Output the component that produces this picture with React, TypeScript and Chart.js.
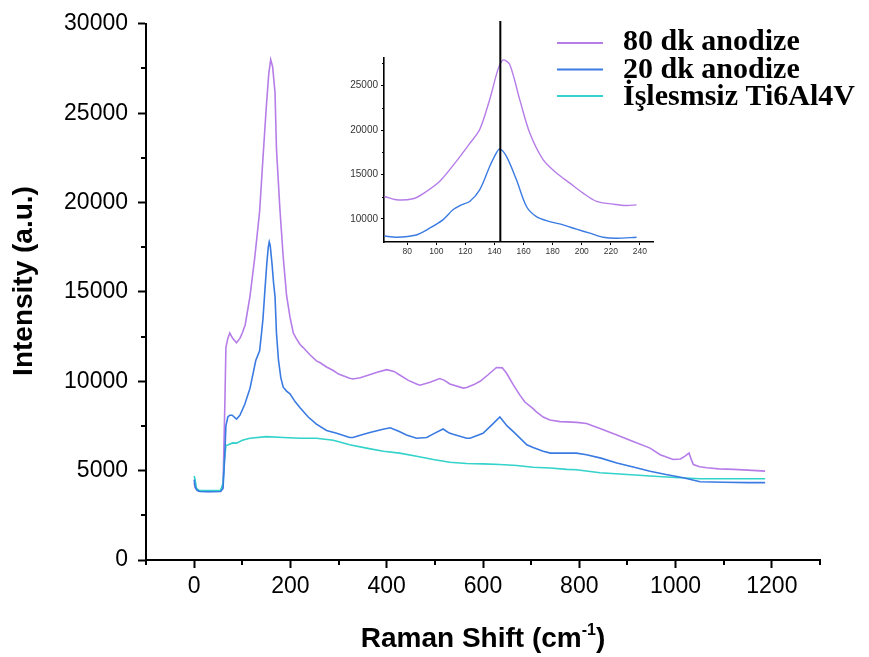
import React, { useEffect, useRef } from 'react';
import { Chart, registerables } from 'chart.js';

Chart.register(...registerables);

// ---------- Main chart data ----------
const seriesLabels = ['80 dk anodize', '20 dk anodize', 'İşlesmsiz Ti6Al4V'];

const shift80 = [0, 3, 10, 30, 55, 60, 64, 66, 70, 74, 80, 88, 95, 100, 106, 116, 126, 136, 143, 150, 155, 159, 163, 168, 171, 178, 185, 192, 199, 206, 212, 220, 226, 240, 254, 261, 275, 289, 300, 323, 330, 345, 358, 380, 400, 415, 427, 445, 462, 469, 490, 510, 520, 531, 559, 566, 580, 594, 610, 628, 640, 649, 663, 677, 687, 704, 711, 725, 739, 760, 774, 795, 815, 843, 878, 912, 947, 968, 995, 1010, 1019, 1028, 1033, 1037, 1050, 1065, 1090, 1120, 1150, 1186];
const int80 = [4300, 4000, 3850, 3830, 3850, 4100, 9000, 11900, 12400, 12700, 12400, 12150, 12400, 12700, 13150, 14750, 16950, 19500, 22500, 25400, 27200, 28000, 27600, 26150, 23000, 19700, 16950, 14800, 13600, 12700, 12400, 12060, 11900, 11500, 11140, 11050, 10800, 10600, 10400, 10170, 10130, 10200, 10310, 10500, 10650, 10550, 10350, 10050, 9850, 9780, 9950, 10150, 10050, 9850, 9620, 9650, 9800, 10000, 10350, 10770, 10750, 10450, 9800, 9210, 8840, 8470, 8290, 8000, 7830, 7740, 7730, 7700, 7640, 7360, 7000, 6630, 6260, 5890, 5620, 5650, 5800, 5980, 5600, 5340, 5220, 5160, 5100, 5070, 5030, 4970];

const shift20 = [0, 2, 6, 12, 30, 55, 60, 63, 66, 70, 74, 79, 88, 95, 105, 116, 128, 136, 140, 143, 147, 151, 154, 156, 158, 162, 165, 168, 171, 175, 180, 185, 192, 199, 210, 220, 237, 254, 275, 296, 323, 330, 345, 365, 390, 407, 425, 441, 462, 483, 500, 517, 530, 538, 566, 573, 600, 620, 635, 650, 663, 670, 691, 704, 725, 740, 774, 794, 815, 845, 878, 912, 947, 980, 1016, 1051, 1100, 1150, 1186];
const int20 = [4500, 4100, 3900, 3830, 3820, 3830, 4000, 5500, 7500, 8000, 8100, 8100, 7880, 8100, 8700, 9600, 11160, 11700, 12700, 13500, 15100, 16600, 17500, 17800, 17600, 16500, 15500, 14750, 12700, 11230, 10200, 9670, 9450, 9300, 8850, 8520, 8000, 7600, 7250, 7090, 6850, 6850, 6980, 7130, 7300, 7400, 7200, 7000, 6810, 6850, 7100, 7330, 7100, 7030, 6810, 6810, 7090, 7600, 8000, 7500, 7180, 7000, 6450, 6300, 6080, 5980, 5980, 5980, 5890, 5700, 5430, 5200, 4970, 4780, 4600, 4380, 4350, 4330, 4330];

const shiftRaw = [0, 2, 5, 10, 30, 55, 60, 63, 66, 71, 80, 88, 100, 116, 150, 185, 220, 254, 289, 323, 358, 393, 427, 462, 497, 531, 566, 600, 635, 670, 704, 739, 774, 794, 843, 900, 947, 1000, 1051, 1100, 1186];
const intRaw = [4700, 4500, 4000, 3900, 3880, 3900, 4300, 5600, 6400, 6450, 6550, 6540, 6700, 6810, 6900, 6850, 6810, 6810, 6700, 6450, 6260, 6080, 5980, 5800, 5620, 5470, 5400, 5380, 5340, 5290, 5190, 5150, 5070, 5050, 4880, 4780, 4700, 4620, 4550, 4550, 4550];

const xMajorTicks = [0, 200, 400, 600, 800, 1000, 1200];
const xMinorTicks = [-100, 100, 300, 500, 700, 900, 1100, 1300];
const yMajorTicks = [0, 5000, 10000, 15000, 20000, 25000, 30000];
const yMinorTicks = [2500, 7500, 12500, 17500, 22500, 27500];

// ---------- Inset data ----------
const insetShift80 = [64.4, 72.4, 83.9, 90.7, 102.2, 113.7, 122.9, 129.8, 136.7, 142.4, 145.8, 150.4, 157.3, 164.2, 173.4, 182.6, 191.8, 200.9, 210.2, 221.6, 230.8, 237.7];
const insetInt80 = [12520, 12150, 12260, 12820, 14210, 16470, 18470, 20050, 23440, 26820, 27870, 27390, 23440, 19680, 16660, 15160, 14030, 12900, 11960, 11660, 11500, 11580];
const insetShift20 = [64.4, 72.4, 86.2, 95.4, 104.5, 111.4, 117.2, 122.9, 129.8, 136.7, 141.3, 143.6, 148.2, 155.1, 162, 168.8, 178, 187.2, 196.4, 205.6, 214.7, 223.9, 237.7];
const insetInt20 = [8080, 7930, 8190, 8950, 9890, 11020, 11580, 11960, 13270, 15900, 17420, 17870, 17030, 14400, 11390, 10260, 9700, 9320, 8840, 8390, 7930, 7820, 7930];
const insetXTicks = [80, 100, 120, 140, 160, 180, 200, 220, 240];
const insetYTicks = [10000, 15000, 20000, 25000];
const insetYMinor = [12500, 17500, 22500, 27500];
const insetMarker = 144;

const PURPLE = '#b67de8';
const BLUE = '#3a7be2';
const CYAN = '#33d2ca';

const pts = (xs: number[], ys: number[]) => xs.map((x, i) => ({ x, y: ys[i] }));

const SANS = '"Liberation Sans", Arial, sans-serif';
const SERIF = '"Liberation Serif", "Times New Roman", serif';

const mainDecor = {
  id: 'mainDecor',
  afterDraw(chart: any) {
    const { ctx, scales } = chart;
    const xs = scales.x;
    const ys = scales.y;
    const area = chart.chartArea;
    ctx.save();
    ctx.strokeStyle = '#000';
    ctx.lineWidth = 2;
    xMinorTicks.forEach((v) => {
      const px = Math.round(xs.getPixelForValue(v));
      ctx.beginPath();
      ctx.moveTo(px, area.bottom);
      ctx.lineTo(px, area.bottom + 5);
      ctx.stroke();
    });
    yMinorTicks.forEach((v) => {
      const py = Math.round(ys.getPixelForValue(v));
      ctx.beginPath();
      ctx.moveTo(area.left, py);
      ctx.lineTo(area.left - 5, py);
      ctx.stroke();
    });
    // axis titles
    ctx.fillStyle = '#000';
    ctx.font = `bold 28px ${SANS}`;
    ctx.save();
    ctx.translate(24, 281);
    ctx.rotate(-Math.PI / 2);
    ctx.textAlign = 'center';
    ctx.textBaseline = 'middle';
    ctx.fillText('Intensity (a.u.)', 0, 0);
    ctx.restore();
    const partA = 'Raman Shift (cm';
    const sup = '-1';
    const partC = ')';
    ctx.font = `bold 28px ${SANS}`;
    const wA = ctx.measureText(partA).width;
    const wC = ctx.measureText(partC).width;
    ctx.font = `bold 16px ${SANS}`;
    const wS = ctx.measureText(sup).width;
    const total = wA + wS + wC;
    const cx = (area.left + area.right) / 2;
    const x0 = cx - total / 2;
    const base = 647;
    ctx.textAlign = 'left';
    ctx.textBaseline = 'alphabetic';
    ctx.font = `bold 28px ${SANS}`;
    ctx.fillText(partA, x0, base);
    ctx.font = `bold 16px ${SANS}`;
    ctx.fillText(sup, x0 + wA, base - 12);
    ctx.font = `bold 28px ${SANS}`;
    ctx.fillText(partC, x0 + wA + wS, base);
    // legend
    const colors = [PURPLE, BLUE, CYAN];
    const lines = [43, 69.5, 96];
    const bases = [50, 77.5, 105];
    ctx.font = `bold 30px ${SERIF}`;
    seriesLabels.forEach((lab, i) => {
      ctx.strokeStyle = colors[i];
      ctx.lineWidth = 2;
      ctx.beginPath();
      ctx.moveTo(557, lines[i]);
      ctx.lineTo(603, lines[i]);
      ctx.stroke();
      ctx.fillStyle = '#000';
      ctx.fillText(lab, 623, bases[i]);
    });
    ctx.restore();
  },
};

const insetDecor = {
  id: 'insetDecor',
  afterDraw(chart: any) {
    const { ctx, scales } = chart;
    const area = chart.chartArea;
    ctx.save();
    ctx.strokeStyle = '#000';
    ctx.lineWidth = 1;
    insetYMinor.forEach((v) => {
      const py = Math.round(scales.y.getPixelForValue(v)) + 0.5;
      ctx.beginPath();
      ctx.moveTo(area.left, py);
      ctx.lineTo(area.left - 2, py);
      ctx.stroke();
    });
    const mx = scales.x.getPixelForValue(insetMarker);
    ctx.lineWidth = 2;
    ctx.beginPath();
    ctx.moveTo(mx, 21);
    ctx.lineTo(mx, area.bottom);
    ctx.stroke();
    ctx.restore();
  },
};

export default function App() {
  const mainRef = useRef<HTMLCanvasElement>(null);
  const insetRef = useRef<HTMLCanvasElement>(null);

  useEffect(() => {
    const main = new Chart(mainRef.current as HTMLCanvasElement, {
      type: 'line',
      data: {
        datasets: [
          { label: seriesLabels[1], data: pts(shift20, int20), borderColor: BLUE },
          { label: seriesLabels[2], data: pts(shiftRaw, intRaw), borderColor: CYAN },
          { label: seriesLabels[0], data: pts(shift80, int80), borderColor: PURPLE },
        ],
      },
      options: {
        animation: false,
        responsive: false,
        devicePixelRatio: 1,
        layout: { padding: { left: 0, right: 49, top: 17, bottom: 0 } },
        plugins: { legend: { display: false }, tooltip: { enabled: false } },
        elements: { point: { radius: 0 }, line: { borderWidth: 1.6, tension: 0 } },
        scales: {
          x: {
            type: 'linear',
            min: -100,
            max: 1300,
            afterBuildTicks: (s: any) => {
              s.ticks = xMajorTicks.map((v) => ({ value: v }));
            },
            afterFit: (s: any) => {
              s.height = 97;
            },
            grid: { drawOnChartArea: false, drawTicks: true, tickLength: 8, tickWidth: 2, tickColor: '#000' },
            border: { display: true, color: '#000', width: 2 },
            ticks: { font: { family: SANS, size: 23 }, color: '#000', padding: 5, maxRotation: 0, autoSkip: false, callback: (v: any) => String(v) },
          },
          y: {
            type: 'linear',
            min: 0,
            max: 30000,
            afterBuildTicks: (s: any) => {
              s.ticks = yMajorTicks.map((v) => ({ value: v }));
            },
            afterFit: (s: any) => {
              s.width = 146;
            },
            grid: { drawOnChartArea: false, drawTicks: true, tickLength: 8, tickWidth: 2, tickColor: '#000' },
            border: { display: true, color: '#000', width: 2 },
            ticks: { font: { family: SANS, size: 23 }, color: '#000', padding: 10, autoSkip: false, callback: (v: any) => String(v) },
          },
        },
      },
      plugins: [mainDecor],
    } as any);

    const inset = new Chart(insetRef.current as HTMLCanvasElement, {
      type: 'line',
      data: {
        datasets: [
          { label: seriesLabels[1], data: pts(insetShift20, insetInt20), borderColor: BLUE },
          { label: seriesLabels[0], data: pts(insetShift80, insetInt80), borderColor: PURPLE },
        ],
      },
      options: {
        animation: false,
        responsive: false,
        devicePixelRatio: 1,
        layout: { padding: { left: 334, right: 216, top: 58, bottom: 395 } },
        plugins: { legend: { display: false }, tooltip: { enabled: false } },
        elements: { point: { radius: 0 }, line: { borderWidth: 1.4, tension: 0.3 } },
        scales: {
          x: {
            type: 'linear',
            min: 64,
            max: 249,
            afterBuildTicks: (s: any) => {
              s.ticks = insetXTicks.map((v) => ({ value: v }));
            },
            afterFit: (s: any) => {
              s.height = 20;
            },
            grid: { drawOnChartArea: false, drawTicks: true, tickLength: 3, tickWidth: 1, tickColor: '#000' },
            border: { display: true, color: '#000', width: 1.6 },
            ticks: { font: { family: SANS, size: 8.5 }, color: '#333', padding: 2, maxRotation: 0, autoSkip: false },
          },
          y: {
            type: 'linear',
            min: 7400,
            max: 28100,
            afterBuildTicks: (s: any) => {
              s.ticks = insetYTicks.map((v) => ({ value: v }));
            },
            afterFit: (s: any) => {
              s.width = 50;
            },
            grid: { drawOnChartArea: false, drawTicks: true, tickLength: 3, tickWidth: 1, tickColor: '#000' },
            border: { display: true, color: '#000', width: 1.6 },
            ticks: { font: { family: SANS, size: 10 }, color: '#333', padding: 3, autoSkip: false, callback: (v: any) => String(v) },
          },
        },
      },
      plugins: [insetDecor],
    } as any);

    return () => {
      main.destroy();
      inset.destroy();
    };
  }, []);

  return (
    <div style={{ position: 'fixed', left: 0, top: 0, width: 869, height: 657, background: '#fff' }}>
      <canvas ref={mainRef} width={869} height={657} style={{ position: 'absolute', left: 0, top: 0 }} />
      <canvas ref={insetRef} width={869} height={657} style={{ position: 'absolute', left: 0, top: 0 }} />
    </div>
  );
}
